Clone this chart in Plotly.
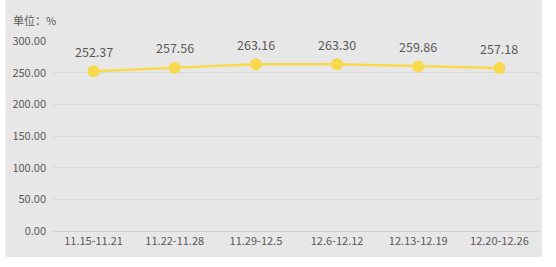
import plotly.graph_objects as go

categories = ["11.15-11.21", "11.22-11.28", "11.29-12.5", "12.6-12.12", "12.13-12.19", "12.20-12.26"]
values = [252.37, 257.56, 263.16, 263.30, 259.86, 257.18]
y_ticks = [0, 50, 100, 150, 200, 250, 300]

font_family = "Noto Sans CJK SC, Noto Sans, sans-serif"
W, H = 556, 267
L, R, T, B = 48, 16, 41, 36
pw, ph = W - L - R, H - T - B

def px_x(p):
    return (p - L) / pw

def px_y(p):
    return (H - B - p) / ph

fig = go.Figure()
fig.add_trace(go.Scatter(
    x=categories, y=values,
    mode="lines+markers",
    line=dict(color="#f8d94c", width=2.5),
    marker=dict(color="#f8d94c", size=12),
    cliponaxis=False,
    hoverinfo="skip",
))

annotations = [dict(
    x=c, y=v, text=f"{v:.2f}", showarrow=False, yshift=20,
    font=dict(family=font_family, size=12.5, color="#595959"),
) for c, v in zip(categories, values)]
annotations.append(dict(
    text="单位：%", xref="paper", yref="paper", x=px_x(6), y=px_y(20),
    xanchor="left", yanchor="middle", showarrow=False,
    font=dict(family=font_family, size=11, color="#595959"),
))

fig.update_layout(
    width=W, height=H,
    margin=dict(l=L, r=R, t=T, b=B),
    paper_bgcolor="white",
    plot_bgcolor="rgba(0,0,0,0)",
    showlegend=False,
    font=dict(family=font_family, color="#595959"),
    annotations=annotations,
    shapes=[dict(
        type="rect", xref="paper", yref="paper",
        x0=px_x(0), x1=px_x(542), y0=px_y(257), y1=px_y(0),
        fillcolor="#e8e7e7", line=dict(width=0), layer="below",
    )],
)
fig.update_xaxes(
    type="category", range=[-0.5, len(categories) - 0.5],
    showgrid=False, showline=False, zeroline=False,
    tickfont=dict(family=font_family, size=11, color="#595959"),
    ticks="", ticklabelstandoff=2,
)
fig.update_yaxes(
    range=[0, 300], tickvals=y_ticks, ticktext=[f"{v:.2f}" for v in y_ticks],
    showgrid=True, gridcolor="#d8d8d8", gridwidth=1,
    zeroline=True, zerolinecolor="#d0d0d0", zerolinewidth=1,
    tickfont=dict(family=font_family, size=11, color="#595959"),
    ticks="", ticklabelstandoff=6,
)

fig.write_html("out.html")
